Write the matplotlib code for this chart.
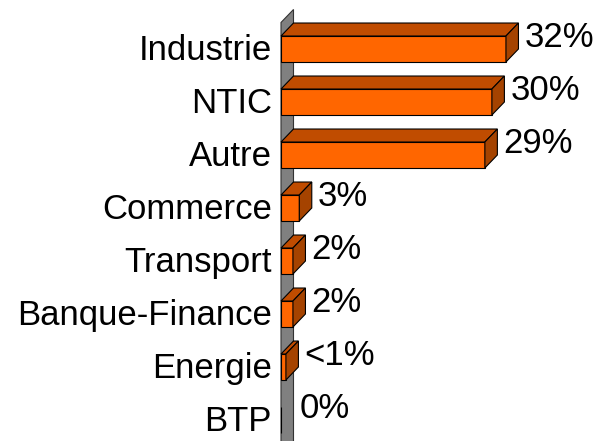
import matplotlib.pyplot as plt
from matplotlib.patches import Polygon

plt.rcParams['font.family'] = ['Liberation Sans', 'DejaVu Sans']

# data
secteurs = ['Industrie', 'NTIC', 'Autre', 'Commerce', 'Transport',
            'Banque-Finance', 'Energie', 'BTP']
parts = [32, 30, 29, 2.6, 1.7, 1.7, 0.7, 0]
etiquettes = ['32%', '30%', '29%', '3%', '2%', '2%', '<1%', '0%']

front = '#FF6600'
top = '#C04C00'
side = '#A54300'

fig = plt.figure(figsize=(6.04, 4.41), dpi=100)
ax = fig.add_axes([0, 0, 1, 1])
ax.axis('off')

# 7.03 px per percent, 53 px per category
ax.set_xlim(-281 / 7.03, (604 - 281) / 7.03)
ax.set_ylim((441 - 49) / 53, -49 / 53)

dx = 12.5 / 7.03
dy = 13 / 53
h = 0.49

# gray side wall
wall = Polygon([(0, -0.5), (dx, -0.5 - dy), (dx, 8), (0, 8)], closed=True,
               facecolor='#808080', edgecolor='#333333', lw=0.8, zorder=1)
ax.add_patch(wall)

ypos = list(range(len(secteurs)))
ax.barh(ypos, parts, height=h, left=0, color=front, edgecolor='black',
        linewidth=0.8, zorder=3)

for i, v in enumerate(parts):
    y0 = i - h / 2
    y1 = i + h / 2
    if v > 0:
        ax.add_patch(Polygon([(0, y0), (v, y0), (v + dx, y0 - dy), (dx, y0 - dy)],
                             closed=True, facecolor=top, edgecolor='black',
                             lw=0.8, zorder=3))
        ax.add_patch(Polygon([(v, y0), (v + dx, y0 - dy), (v + dx, y1 - dy), (v, y1)],
                             closed=True, facecolor=side, edgecolor='black',
                             lw=0.8, zorder=3))
    ax.text(v + dx + 6 / 7.03, i - 0.22, etiquettes[i], fontsize=25,
            ha='left', va='center', color='black')
    ax.text(-1.3, i + 0.02, secteurs[i], fontsize=25, ha='right',
            va='center', color='black')

fig.savefig('out.png', dpi=100)
